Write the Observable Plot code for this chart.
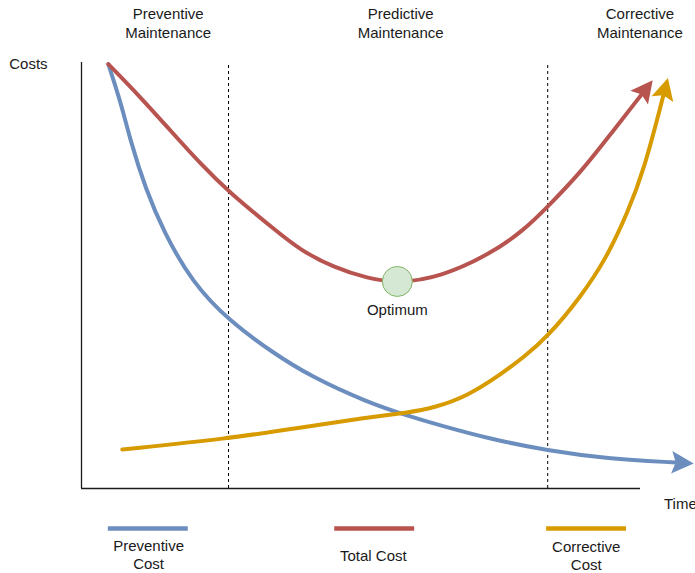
<!DOCTYPE html>
<html>
<head>
<meta charset="utf-8">
<script src="https://cdn.jsdelivr.net/npm/d3@7"></script>
<script src="https://cdn.jsdelivr.net/npm/@observablehq/plot@0.6"></script>
<style>
  html, body { margin: 0; padding: 0; background: #ffffff; }
  #chart svg { display: block; overflow: visible; }
</style>
</head>
<body>
<div id="chart"></div>
<script>
// ---- Data (time on x, cost on y, arbitrary units 0..100) ----
const preventiveTime = [4.8, 7.0, 8.8, 11.45, 14.7, 19.8, 26.35, 34.2, 41.0, 51.2, 58.3, 64.2, 73.2, 83.3, 94.0, 106.3];
const preventiveCost = [99.6, 90.8, 81.4, 70.4, 60.2, 48.4, 39.4, 31.9, 26.3, 20.2, 17.1, 14.8, 11.6, 8.9, 7.0, 6.1];

const totalTime = [4.8, 10.25, 16.2, 21.6, 26.35, 34.7, 39.2, 45.1, 51.2, 56.5, 64.2, 73.2, 79.1, 83.3, 89.3, 94.6, 100.2];
const totalCost = [99.6, 92.3, 83.6, 75.8, 69.6, 60.6, 55.9, 51.9, 49.3, 48.2, 49.6, 55.1, 60.6, 66.0, 74.2, 83.1, 92.5];

const correctiveTime = [7.3, 26.1, 39.2, 51.2, 58.3, 63.0, 69.05, 75.0, 79.1, 83.3, 89.3, 94.0, 97.6, 100.6, 104.1];
const correctiveCost = [9.15, 11.7, 14.3, 16.7, 17.8, 18.9, 21.7, 26.8, 30.8, 35.5, 44.9, 54.3, 64.5, 74.6, 92.3];

const phaseBoundaries = [26.3, 83.4];
const phaseLabels = ["Preventive\nMaintenance", "Predictive\nMaintenance", "Corrective\nMaintenance"];
const phaseLabelTime = [15.5, 57.1, 99.9];

const optimum = {time: 56.5, cost: 48.6, label: "Optimum"};

const seriesNames = ["Preventive\nCost", "Total Cost", "Corrective\nCost"];
const seriesColors = ["#6c8ebf", "#b85450", "#d79b00"];

const toRows = (ts, cs) => ts.map((t, i) => ({time: t, cost: cs[i]}));
const preventive = toRows(preventiveTime, preventiveCost);
const total = toRows(totalTime, totalCost);
const corrective = toRows(correctiveTime, correctiveCost);

// legend layout (below the axis)
const legendRows = seriesNames.map((name, i) => ({
  name, color: seriesColors[i],
  x1: [4.8, 45.3, 83.2][i], x2: [19.1, 59.6, 97.5][i],
  xc: [12.0, 52.2, 90.3][i], yl: [-19.0, -17.1, -19.2][i]
}));

const font = "'Liberation Sans', Arial, Helvetica, sans-serif";

const chart = Plot.plot({
  width: 695,
  height: 573,
  marginLeft: 81,
  marginRight: 55,
  marginTop: 62,
  marginBottom: 85,
  x: {domain: [0, 100], axis: null},
  y: {domain: [0, 100], axis: null},
  style: {fontFamily: font, fontSize: "15px", color: "#1a1a1a", background: "#ffffff"},
  marks: [
    // axes
    Plot.ruleX([0], {y1: 0, y2: 100, stroke: "#1a1a1a", strokeWidth: 1.3}),
    Plot.ruleY([0], {x1: 0, x2: 100, stroke: "#1a1a1a", strokeWidth: 1.3}),
    // phase boundaries
    Plot.ruleX(phaseBoundaries, {y1: 0, y2: 100, stroke: "#000", strokeWidth: 1, strokeDasharray: "3,3"}),
    // curves
    Plot.line(preventive, {x: "time", y: "cost", stroke: seriesColors[0], strokeWidth: 4, curve: "basis"}),
    Plot.line(corrective, {x: "time", y: "cost", stroke: seriesColors[2], strokeWidth: 4, curve: "basis"}),
    Plot.line(total, {x: "time", y: "cost", stroke: seriesColors[1], strokeWidth: 4, curve: "basis"}),
    // optimum
    Plot.dot([optimum], {x: "time", y: "cost", r: 15, fill: "#d5e8d4", stroke: "#82b366", strokeWidth: 1}),
    Plot.text([optimum], {x: "time", y: 40.8, text: "label", lineAnchor: "bottom", textAnchor: "middle", fill: "#1a1a1a"}),
    // phase labels
    Plot.text(phaseLabels, {x: (d, i) => phaseLabelTime[i], y: 105.8, text: d => d, lineAnchor: "bottom", lineHeight: 1.25, textAnchor: "middle", fill: "#1a1a1a"}),
    // axis titles
    Plot.text(["Costs"], {x: -9.5, y: 98.5, text: d => d, lineAnchor: "bottom", textAnchor: "middle", fill: "#1a1a1a"}),
    Plot.text(["Time"], {x: 104.2, y: -4.7, text: d => d, lineAnchor: "bottom", textAnchor: "start", fill: "#1a1a1a"}),
    // legend
    Plot.ruleY(legendRows, {y: -9.4, x1: "x1", x2: "x2", stroke: "color", strokeWidth: 4.5}),
    Plot.text(legendRows, {x: "xc", y: "yl", text: "name", lineAnchor: "bottom", lineHeight: 1.25, textAnchor: "middle", fill: "#1a1a1a"})
  ]
});

document.getElementById("chart").append(chart);

// filled arrowheads at the end of each curve
const svg = d3.select(chart);
const defs = svg.insert("defs", ":first-child");
svg.selectAll("g[aria-label='line']").each(function(_, i) {
  const g = d3.select(this);
  const color = g.attr("stroke");
  const id = "arrowhead-" + i;
  defs.append("marker")
    .attr("id", id)
    .attr("viewBox", "-1.2 -3 6 6")
    .attr("refX", 0).attr("refY", 0)
    .attr("markerWidth", 6).attr("markerHeight", 6)
    .attr("markerUnits", "strokeWidth")
    .attr("orient", "auto")
    .append("path")
    .attr("d", "M4.5,0L-1,-2.8L0,0L-1,2.8Z")
    .attr("fill", color)
    .attr("stroke", "none");
  g.selectAll("path").attr("marker-end", `url(#${id})`);
});
</script>
</body>
</html>
